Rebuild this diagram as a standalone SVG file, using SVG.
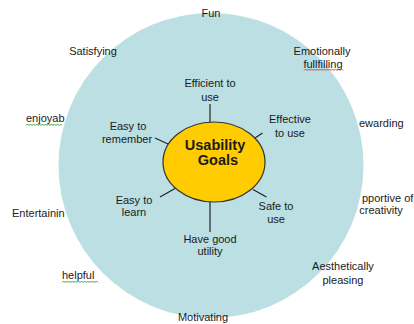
<svg xmlns="http://www.w3.org/2000/svg" width="414" height="324" viewBox="0 0 414 324">
<style>
text{font-family:"Liberation Sans",Arial,sans-serif;font-size:11px;fill:#1a1a1a}
.c{text-anchor:middle}
.t{font-size:14.5px;font-weight:bold;text-anchor:middle}
.ln{stroke:#222;stroke-width:1.2;fill:none}
.wr{stroke:#e03030;stroke-width:0.9;fill:none}
.wg{stroke:#2a9a2a;stroke-width:0.9;fill:none}
</style>
<rect width="414" height="324" fill="#ffffff"/>
<g id="outer-circle"><circle cx="211" cy="165.5" r="152.5" fill="#bbdfe3"/></g>
<g id="outer-labels">
<g id="fun"><text class="c" x="211" y="17">Fun</text></g>
<g id="satisfying"><text class="c" x="93" y="55">Satisfying</text></g>
<g id="emotionally"><text class="c" x="322" y="55">Emotionally</text><text class="c" x="323" y="68">fullfilling</text><path class="wr" d="M304 70.5 l1.5 -1.5 l1.5 1.5 l1.5 -1.5 l1.5 1.5 l1.5 -1.5 l1.5 1.5 l1.5 -1.5 l1.5 1.5 l1.5 -1.5 l1.5 1.5 l1.5 -1.5 l1.5 1.5 l1.5 -1.5 l1.5 1.5 l1.5 -1.5 l1.5 1.5 l1.5 -1.5 l1.5 1.5 l1.5 -1.5 l1.5 1.5 l1.5 -1.5 l1.5 1.5 l1.5 -1.5 l1.5 1.5 l1.5 -1.5 l1.5 1.5"/></g>
<g id="enjoyable"><text x="26" y="122">enjoyab</text><path class="wg" d="M26 125.5 l1.5 -1.5 l1.5 1.5 l1.5 -1.5 l1.5 1.5 l1.5 -1.5 l1.5 1.5 l1.5 -1.5 l1.5 1.5 l1.5 -1.5 l1.5 1.5 l1.5 -1.5 l1.5 1.5 l1.5 -1.5 l1.5 1.5 l1.5 -1.5 l1.5 1.5 l1.5 -1.5 l1.5 1.5 l1.5 -1.5 l1.5 1.5 l1.5 -1.5 l1.5 1.5 l1.5 -1.5 l1.5 1.5"/></g>
<g id="rewarding"><text x="359" y="127">ewarding</text></g>
<g id="entertaining"><text x="12" y="217">Entertainin</text></g>
<g id="supportive"><text x="362" y="202">pportive of</text><text class="c" x="381" y="214">creativity</text></g>
<g id="aesthetically"><text class="c" x="343" y="270">Aesthetically</text><text class="c" x="343" y="284">pleasing</text></g>
<g id="helpful"><text x="62" y="279">helpful</text><path class="wg" d="M62 282.5 l1.5 -1.5 l1.5 1.5 l1.5 -1.5 l1.5 1.5 l1.5 -1.5 l1.5 1.5 l1.5 -1.5 l1.5 1.5 l1.5 -1.5 l1.5 1.5 l1.5 -1.5 l1.5 1.5 l1.5 -1.5 l1.5 1.5 l1.5 -1.5 l1.5 1.5 l1.5 -1.5 l1.5 1.5 l1.5 -1.5 l1.5 1.5 l1.5 -1.5 l1.5 1.5 l1.5 -1.5 l1.5 1.5"/></g>
<g id="motivating"><text class="c" x="203" y="321">Motivating</text></g>
</g>
<g id="connectors">
<line class="ln" x1="210" y1="104" x2="210" y2="122.5"/>
<line class="ln" x1="210" y1="201.5" x2="210" y2="232"/>
<line class="ln" x1="155" y1="138" x2="168" y2="144"/>
<line class="ln" x1="255" y1="138" x2="262.5" y2="133"/>
<line class="ln" x1="160" y1="197" x2="175" y2="188.5"/>
<line class="ln" x1="253" y1="189.5" x2="266.5" y2="197"/>
</g>
<g id="usability-goals"><ellipse cx="214" cy="162" rx="51" ry="40" fill="#ffcc00" stroke="#333" stroke-width="1.2"/><text class="t" x="215" y="150">Usability</text><text class="t" x="218" y="165">Goals</text></g>
<g id="efficient"><text class="c" x="210" y="87">Efficient to</text><text class="c" x="210" y="101">use</text></g>
<g id="remember"><text class="c" x="128" y="130">Easy to</text><text class="c" x="127" y="143">remember</text></g>
<g id="effective"><text class="c" x="290" y="123">Effective</text><text class="c" x="290" y="137">to use</text></g>
<g id="learn"><text class="c" x="134" y="204">Easy to</text><text class="c" x="134" y="216">learn</text></g>
<g id="safe"><text class="c" x="276" y="210">Safe to</text><text class="c" x="276" y="223">use</text></g>
<g id="utility"><text class="c" x="210" y="243">Have good</text><text class="c" x="210" y="255">utility</text></g>
</svg>
